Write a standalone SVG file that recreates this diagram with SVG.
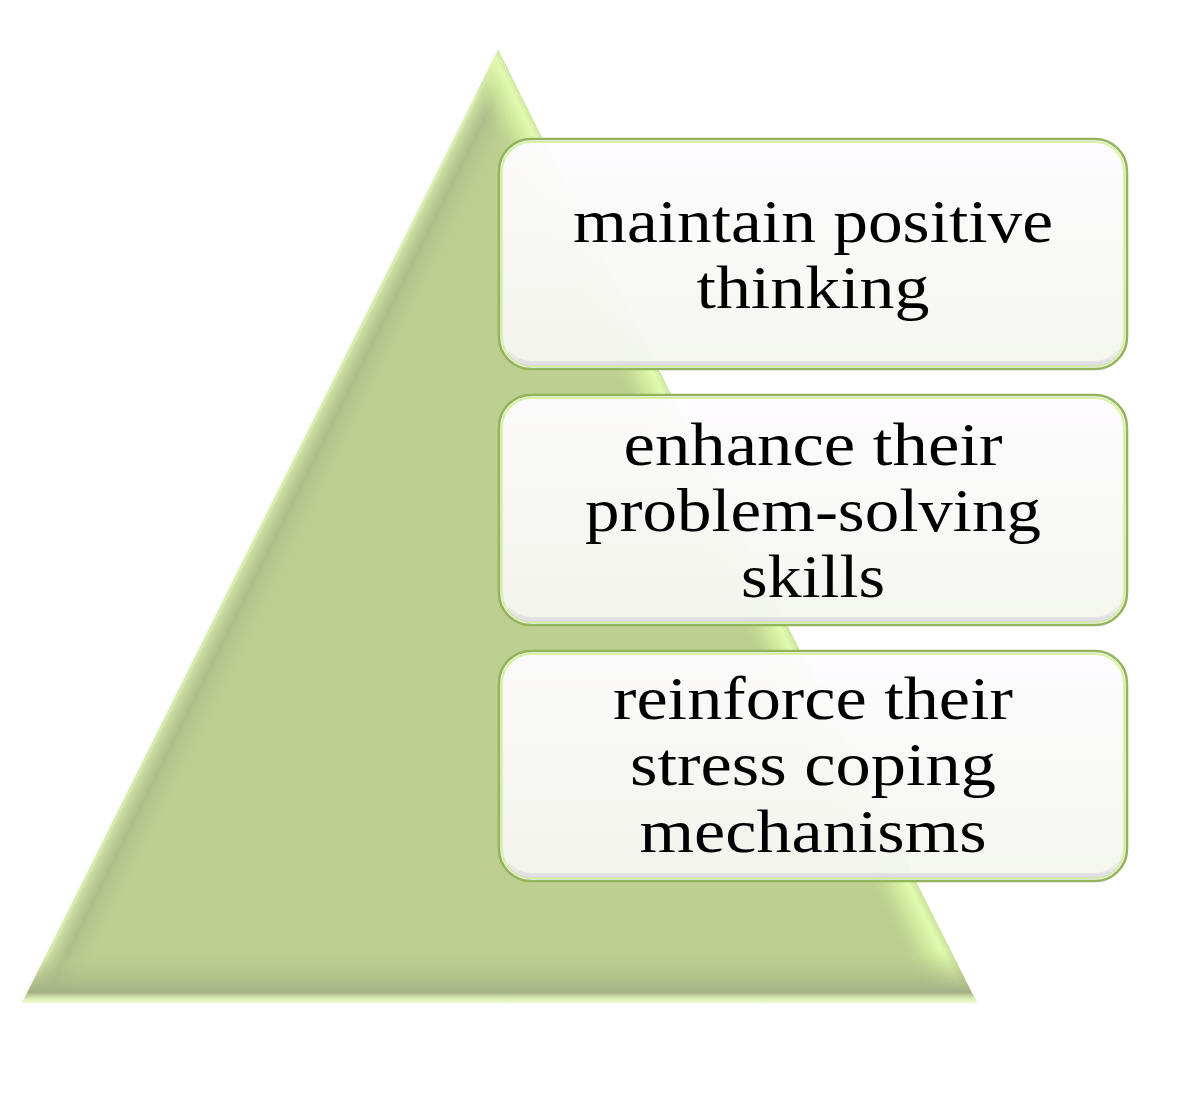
<svg xmlns="http://www.w3.org/2000/svg" width="1182" height="1097" viewBox="0 0 1182 1097">
<style>
.lbl{font-family:"Liberation Serif","Times New Roman",serif;font-size:61px;fill:#000;text-anchor:middle}
.box{fill:url(#boxFill);stroke:#93b45c;stroke-width:2.5}
.boxIn{fill:none;stroke:#d6f2a4;stroke-width:2}
.boxSh{fill:none;stroke:url(#shadeV);stroke-width:5}
</style>
<defs>
<clipPath id="triClip"><polygon points="498,50 977,1003 22,1003"/></clipPath>
<linearGradient id="leftBev" gradientUnits="userSpaceOnUse" x1="260" y1="526" x2="302" y2="547">
<stop offset="0" stop-color="#e2f6bd"/>
<stop offset="0.1" stop-color="#c9dca0"/>
<stop offset="0.4" stop-color="#a9b98a" stop-opacity="0.75"/>
<stop offset="1" stop-color="#bccf90" stop-opacity="0"/>
</linearGradient>
<linearGradient id="rightBev" gradientUnits="userSpaceOnUse" x1="737" y1="526" x2="697" y2="546">
<stop offset="0" stop-color="#cfe69f"/>
<stop offset="0.15" stop-color="#e0fbb0"/>
<stop offset="0.5" stop-color="#d4ee9f" stop-opacity="0.7"/>
<stop offset="1" stop-color="#bccf90" stop-opacity="0"/>
</linearGradient>
<linearGradient id="botBev" gradientUnits="userSpaceOnUse" x1="0" y1="1003" x2="0" y2="950">
<stop offset="0" stop-color="#ecfbd0"/>
<stop offset="0.08" stop-color="#dcefb8"/>
<stop offset="0.2" stop-color="#a3b184"/>
<stop offset="0.55" stop-color="#aebd8a" stop-opacity="0.6"/>
<stop offset="1" stop-color="#bccf90" stop-opacity="0"/>
</linearGradient>
<linearGradient id="boxFill" x1="0" y1="0" x2="0" y2="1">
<stop offset="0" stop-color="#fefcff" stop-opacity="0.96"/>
<stop offset="1" stop-color="#f4f6ef" stop-opacity="0.96"/>
</linearGradient>
<linearGradient id="shadeV" x1="0" y1="0" x2="0" y2="1">
<stop offset="0" stop-color="#ffffff" stop-opacity="0"/>
<stop offset="0.92" stop-color="#dcd9e2" stop-opacity="0"/>
<stop offset="1" stop-color="#cfccd8" stop-opacity="0.55"/>
</linearGradient>
</defs>

<g id="pyramid">
<polygon points="498,50 977,1003 22,1003" fill="#bccf90"/>
<g clip-path="url(#triClip)">
<rect x="0" y="40" width="1000" height="970" fill="url(#leftBev)"/>
<rect x="0" y="40" width="1000" height="970" fill="url(#rightBev)"/>
<rect x="0" y="40" width="1000" height="970" fill="url(#botBev)"/>
</g>
</g>

<g id="connectors"></g>

<g id="node1">
<rect class="box" x="499" y="139" width="628" height="230" rx="32"/>
<rect class="boxIn" x="502" y="142" width="622" height="224" rx="29"/>
<rect class="boxSh" x="504.5" y="144.5" width="617" height="219" rx="26"/>
<text class="lbl" x="813" y="242" textLength="480" lengthAdjust="spacingAndGlyphs">maintain positive</text>
<text class="lbl" x="813" y="308" textLength="233" lengthAdjust="spacingAndGlyphs">thinking</text>
</g>

<g id="node2">
<rect class="box" x="499" y="395" width="628" height="230" rx="32"/>
<rect class="boxIn" x="502" y="398" width="622" height="224" rx="29"/>
<rect class="boxSh" x="504.5" y="400.5" width="617" height="219" rx="26"/>
<text class="lbl" x="813" y="465" textLength="379" lengthAdjust="spacingAndGlyphs">enhance their</text>
<text class="lbl" x="813" y="531" textLength="456" lengthAdjust="spacingAndGlyphs">problem-solving</text>
<text class="lbl" x="813" y="597" textLength="144" lengthAdjust="spacingAndGlyphs">skills</text>
</g>

<g id="node3">
<rect class="box" x="499" y="651" width="628" height="230" rx="32"/>
<rect class="boxIn" x="502" y="654" width="622" height="224" rx="29"/>
<rect class="boxSh" x="504.5" y="656.5" width="617" height="219" rx="26"/>
<text class="lbl" x="813" y="719" textLength="400" lengthAdjust="spacingAndGlyphs">reinforce their</text>
<text class="lbl" x="813" y="785" textLength="366" lengthAdjust="spacingAndGlyphs">stress coping</text>
<text class="lbl" x="813" y="852" textLength="347" lengthAdjust="spacingAndGlyphs">mechanisms</text>
</g>
</svg>
